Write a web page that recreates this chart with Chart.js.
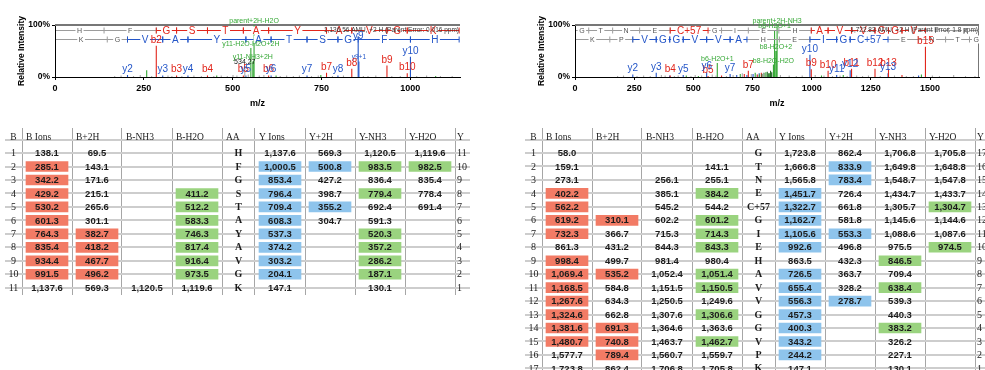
<!DOCTYPE html>
<html>
<head>
<meta charset="utf-8">
<title>MS/MS spectra and fragment ion tables</title>
<script src="https://cdn.jsdelivr.net/npm/chart.js@4.4.1/dist/chart.umd.min.js"></script>
<style>
  body { margin: 0; background: #fff; }
  #page { position: relative; width: 985px; height: 370px; overflow: hidden; }
  canvas { position: absolute; }
</style>
</head>
<body>
<div id="page">
  <canvas id="specLeft" width="470" height="112" style="left:0px;top:0px"></canvas>
  <canvas id="specRight" width="465" height="112" style="left:520px;top:0px"></canvas>
  <canvas id="tableLeft" width="470" height="250" style="left:0px;top:120px"></canvas>
  <canvas id="tableRight" width="465" height="250" style="left:520px;top:120px"></canvas>
</div>
<script>
// ---------- left peptide HFGSTAYAVGK : fragment table ----------
const leftAA    = ['H', 'F', 'G', 'S', 'T', 'A', 'Y', 'A', 'V', 'G', 'K'];
const leftBIons = [138.1, 285.1, 342.2, 429.2, 530.2, 601.3, 764.3, 835.4, 934.4, 991.5, 1137.6];
const leftB2H   = [69.5, 143.1, 171.6, 215.1, 265.6, 301.1, 382.7, 418.2, 467.7, 496.2, 569.3];
const leftBNH3  = [null, null, null, null, null, null, null, null, null, null, 1120.5];
const leftBH2O  = [null, null, null, 411.2, 512.2, 583.3, 746.3, 817.4, 916.4, 973.5, 1119.6];
const leftYIons = [1137.6, 1000.5, 853.4, 796.4, 709.4, 608.3, 537.3, 374.2, 303.2, 204.1, 147.1];
const leftY2H   = [569.3, 500.8, 427.2, 398.7, 355.2, 304.7, null, null, null, null, null];
const leftYNH3  = [1120.5, 983.5, 836.4, 779.4, 692.4, 591.3, 520.3, 357.2, 286.2, 187.1, 130.1];
const leftYH2O  = [1119.6, 982.5, 835.4, 778.4, 691.4, null, null, null, null, null, null];
// matched cells (table row numbers)
const leftHitBIons = [2, 3, 4, 5, 6, 7, 8, 9, 10];
const leftHitB2H   = [7, 8, 9, 10];
const leftHitBH2O  = [4, 5, 6, 7, 8, 9, 10];
const leftHitYIons = [2, 3, 4, 5, 6, 7, 8, 9, 10];
const leftHitY2H   = [2, 5];
const leftHitYNH3  = [2, 4, 7, 8, 9, 10];
const leftHitYH2O  = [2];

// ---------- right peptide GTNEC+57GIEHAVVGGVPK : fragment table ----------
const rightAA    = ['G', 'T', 'N', 'E', 'C+57', 'G', 'I', 'E', 'H', 'A', 'V', 'V', 'G', 'G', 'V', 'P', 'K'];
const rightBIons = [58.0, 159.1, 273.1, 402.2, 562.2, 619.2, 732.3, 861.3, 998.4, 1069.4, 1168.5, 1267.6, 1324.6, 1381.6, 1480.7, 1577.7, 1723.8];
const rightB2H   = [null, null, null, null, null, 310.1, 366.7, 431.2, 499.7, 535.2, 584.8, 634.3, 662.8, 691.3, 740.8, 789.4, 862.4];
const rightBNH3  = [null, null, 256.1, 385.1, 545.2, 602.2, 715.3, 844.3, 981.4, 1052.4, 1151.5, 1250.5, 1307.6, 1364.6, 1463.7, 1560.7, 1706.8];
const rightBH2O  = [null, 141.1, 255.1, 384.2, 544.2, 601.2, 714.3, 843.3, 980.4, 1051.4, 1150.5, 1249.6, 1306.6, 1363.6, 1462.7, 1559.7, 1705.8];
const rightYIons = [1723.8, 1666.8, 1565.8, 1451.7, 1322.7, 1162.7, 1105.6, 992.6, 863.5, 726.5, 655.4, 556.3, 457.3, 400.3, 343.2, 244.2, 147.1];
const rightY2H   = [862.4, 833.9, 783.4, 726.4, 661.8, 581.8, 553.3, 496.8, 432.3, 363.7, 328.2, 278.7, null, null, null, null, null];
const rightYNH3  = [1706.8, 1649.8, 1548.7, 1434.7, 1305.7, 1145.6, 1088.6, 975.5, 846.5, 709.4, 638.4, 539.3, 440.3, 383.2, 326.2, 227.1, 130.1];
const rightYH2O  = [1705.8, 1648.8, 1547.8, 1433.7, 1304.7, 1144.6, 1087.6, 974.5, null, null, null, null, null, null, null, null, null];
const rightHitBIons = [4, 5, 6, 7, 9, 10, 11, 12, 13, 14, 15];
const rightHitB2H   = [6, 10, 14, 15, 16];
const rightHitBH2O  = [4, 6, 7, 8, 10, 11, 13, 15];
const rightHitYIons = [4, 5, 6, 7, 8, 10, 11, 12, 13, 14, 15, 16];
const rightHitY2H   = [2, 3, 7, 12];
const rightHitYNH3  = [9, 11, 14];
const rightHitYH2O  = [5, 8];

const tableHeader = ['B', 'B Ions', 'B+2H', 'B-NH3', 'B-H2O', 'AA', 'Y Ions', 'Y+2H', 'Y-NH3', 'Y-H2O', 'Y'];

// ---------- spectra: m/z, relative intensity (%), label ----------
const mzTicks = [0, 250, 500, 750, 1000, 1250, 1500];

const specL_bMz  = [285.1, 342.2, 429.2, 530.2, 601.3, 764.3, 835.4, 934.4, 991.5];
const specL_bInt = [60, 3, 3, 3, 3, 8, 16, 22, 7];
const specL_bLab = ['b2', 'b3', 'b4', 'b5', 'b6', 'b7', 'b8', 'b9', 'b10'];
const specL_yMz  = [204.1, 303.2, 374.2, 537.3, 608.3, 709.4, 796.4, 853.4, 1000.5];
const specL_yInt = [4, 3, 3, 3, 3, 3, 3, 67, 39];
const specL_yLab = ['y2', 'y3', 'y4', 'y5', 'y6', 'y7', 'y8', 'y9', 'y10'];
const specL_iMz  = [855.4];
const specL_iInt = [30];
const specL_iLab = ['y9+1'];
const specL_gMz  = [258.1, 551.3, 556.8, 560.3, 455.2, 622.3, 748.3, 1071.5];
const specL_gInt = [13, 56, 30, 100, 3, 3, 4, 2];
const specL_gLab = ['', 'y11-H2O-H2O+2H', 'y11-NH3+2H', 'parent+2H-H2O', '', '', '', ''];
const specL_nMz  = [168, 186, 221, 240, 272, 318, 329, 357, 391, 412, 447, 468, 485, 501, 512, 534.27, 544, 575, 588, 634, 652, 671, 688, 722, 741, 781, 812, 868, 881, 903, 948, 972, 1018, 1046, 1085, 1118];
const specL_nInt = [2, 3, 2, 4, 2, 3, 2, 2, 3, 2, 2, 3, 2, 4, 3, 22, 5, 3, 4, 2, 3, 2, 3, 2, 3, 2, 3, 2, 2, 3, 2, 2, 2, 3, 2, 2];
const specL_nLab = ['', '', '', '', '', '', '', '', '', '', '', '', '', '', '', '534.27'];

const specR_bMz  = [402.2, 562.2, 619.2, 732.3, 998.4, 1069.4, 1168.5, 1267.6, 1324.6, 1381.6, 1480.7, 715.3, 771.4, 787.4];
const specR_bInt = [3, 2, 3, 12, 15, 12, 16, 16, 16, 4, 58, 6, 5, 8];
const specR_bLab = ['b4', 'b5', '', 'b7', 'b9', 'b10', 'b11', 'b12', 'b13', '', 'b15'];
const specR_yMz  = [244.2, 343.2, 400.3, 457.3, 556.3, 655.4, 726.5, 992.6, 1105.6, 1162.7, 1322.7, 1451.7, 683.3, 752.4, 778.4];
const specR_yInt = [5, 8, 3, 4, 9, 6, 4, 43, 4, 13, 7, 3, 4, 6, 7];
const specR_yLab = ['y2', 'y3', '', 'y5', 'y6', 'y7', '', 'y10', 'y11', 'y12', 'y13'];
const specR_gMz  = [601.2, 838.4, 843.3, 849.0, 853.9, 470.2, 521.3, 698.3, 761.4, 779.4, 806.4, 822.4, 1041.5, 1133.5, 1463.7];
const specR_gInt = [27, 24, 90, 50, 100, 3, 2, 6, 8, 5, 9, 7, 3, 4, 5];
const specR_gLab = ['b6-H2O+1', 'b8-H2O-H2O', 'b8-H2O+1', 'b8-H2O+2', 'parent+2H-NH3'];
const specR_dMz  = [790.4, 798.4, 812.4, 818.4, 826.4, 831.4];
const specR_dInt = [6, 8, 10, 7, 12, 9];
const specR_nMz  = [180, 205, 262, 290, 318, 365, 381, 420, 436, 490, 508, 535, 580, 596, 640, 668, 707, 745, 768, 795, 868, 905, 935, 960, 1015, 1052, 1088, 1120, 1150, 1190, 1215, 1240, 1290, 1350, 1400, 1430, 1510, 1540, 1600, 1650, 1690];
const specR_nInt = [2, 3, 2, 3, 2, 4, 3, 2, 3, 2, 4, 3, 5, 3, 2, 4, 7, 6, 5, 7, 4, 3, 2, 3, 4, 3, 2, 3, 2, 3, 2, 3, 2, 3, 2, 2, 3, 2, 4, 2, 2];

// sequence ladder coverage (1 = coloured residue)
const specL_bLadder = [0, 0, 1, 1, 1, 1, 1, 1, 1, 1, 1];
const specL_yLadder = [0, 0, 1, 1, 1, 1, 1, 1, 1, 1, 1];
const specR_bLadder = [0, 0, 0, 0, 1, 0, 0, 0, 0, 1, 1, 1, 1, 1, 1, 0, 0];
const specR_yLadder = [0, 0, 1, 1, 1, 1, 1, 1, 0, 0, 1, 1, 1, 0, 0, 0, 0];

const specL_parent = '1,136.56 AMU, +2 H (Parent Error: 0.016 ppm)';
const specR_parent = '1,722.83 AMU, +2 H (Parent Error: 1.8 ppm)';

// ---------- styling ----------
const RED = '#e2261c', BLUE = '#2456c8', GREEN = '#35a835', DKGREEN = '#1f6a22', GREY = '#ababab';
const HL = { red: '#f27b65', blue: '#8ec4ec', green: '#9ad37f' };
const SANS = "'Liberation Sans', Arial, sans-serif";
const SERIF = "'Liberation Serif', 'Times New Roman', serif";
const colEdges = [5, 22, 72, 122, 172, 222, 255, 305, 355, 405, 455, 490];
const HEADER_TOP = -1.36, HEADER_MID = -0.68;
const LADDER_B = 89.5, LADDER_Y = 73;

Chart.defaults.font.family = SANS;

function sticks(mz, inten) {
  let pts = [];
  mz.forEach((m, i) => { pts.push({x: m, y: 0}, {x: m, y: inten[i]}, {x: m, y: null}); });
  return pts;
}

function framePlugin(rightBorder) {
  return {
    id: 'frame',
    beforeDatasetsDraw(chart) {
      let {ctx, chartArea: a} = chart;
      ctx.save();
      ctx.strokeStyle = '#777';
      ctx.lineWidth = 2;
      ctx.beginPath(); ctx.moveTo(a.left, a.top); ctx.lineTo(a.right, a.top); ctx.stroke();
      if (rightBorder) {
        ctx.lineWidth = 1;
        ctx.beginPath(); ctx.moveTo(a.right - 0.5, a.top); ctx.lineTo(a.right - 0.5, a.bottom); ctx.stroke();
      }
      ctx.restore();
    }
  };
}

function ladderPlugin(rows, parentText) {
  return {
    id: 'ladder',
    afterDatasetsDraw(chart) {
      let {ctx, chartArea: a, scales: {x, y}} = chart;
      ctx.save();
      ctx.beginPath(); ctx.rect(a.left + 1, a.top - 2, a.width - 1, a.height); ctx.clip();
      rows.forEach(row => {
        let py = Math.round(y.getPixelForValue(row.level)) + 0.5;
        // grey residues first, coloured on top
        [0, 1].forEach(pass => {
          row.aa.forEach((aa, i) => {
            if (row.cover[i] !== pass) return;
            let x0 = x.getPixelForValue(row.edges[i]), x1 = x.getPixelForValue(row.edges[i + 1]);
            let col = pass ? row.color : '#9c9c9c';
            ctx.strokeStyle = col;
            ctx.lineWidth = 1;
            ctx.beginPath(); ctx.moveTo(x0, py); ctx.lineTo(x1, py); ctx.stroke();
            ctx.beginPath();
            ctx.moveTo(x1, py - 3); ctx.lineTo(x1, py + 3);
            if (pass) { ctx.moveTo(x0, py - 3); ctx.lineTo(x0, py + 3); }
            ctx.stroke();
            ctx.font = pass ? '10px ' + SANS : '7px ' + SANS;
            let w = ctx.measureText(aa).width, cx = (x0 + x1) / 2;
            ctx.fillStyle = '#fff';
            ctx.fillRect(cx - w / 2 - 1.5, py - 4, w + 3, 8);
            ctx.fillStyle = pass ? row.color : '#555';
            ctx.textAlign = 'center';
            ctx.textBaseline = 'middle';
            ctx.fillText(aa, cx, py + 0.5);
          });
        });
      });
      ctx.restore();
      ctx.save();
      ctx.font = '6.5px ' + SANS;
      ctx.fillStyle = '#3a3a3a';
      ctx.textAlign = 'right';
      ctx.textBaseline = 'middle';
      ctx.fillText(parentText, a.right - 1, Math.round(y.getPixelForValue(LADDER_B)));
      ctx.restore();
    }
  };
}

function peakLabelPlugin(groups) {
  return {
    id: 'peakLabels',
    afterDraw(chart) {
      let {ctx, scales: {x, y}} = chart;
      ctx.save();
      ctx.textAlign = 'center';
      ctx.textBaseline = 'alphabetic';
      groups.forEach(g => {
        if (!g.lab) return;
        ctx.font = g.font;
        ctx.fillStyle = g.labColor || g.color;
        g.lab.forEach((t, i) => {
          if (!t) return;
          ctx.fillText(t, x.getPixelForValue(g.mz[i]), y.getPixelForValue(g.int[i]) - g.gap);
        });
      });
      ctx.restore();
    }
  };
}

function drawSpectrum(id, xMax, axisWidth, padRight, groups, ladders, parentText, rightBorder) {
  return new Chart(document.getElementById(id), {
    type: 'scatter',
    data: {
      datasets: groups.map(g => ({
        data: sticks(g.mz, g.int),
        showLine: true,
        spanGaps: false,
        borderColor: g.color,
        borderWidth: 1.1,
        pointRadius: 0
      }))
    },
    options: {
      responsive: false,
      animation: false,
      devicePixelRatio: 1,
      layout: { padding: { top: 25, right: padRight, left: 0, bottom: 0 } },
      plugins: { legend: { display: false }, tooltip: { enabled: false } },
      scales: {
        x: {
          type: 'linear', min: 0, max: xMax,
          afterBuildTicks: s => { s.ticks = mzTicks.filter(v => v <= xMax).map(v => ({value: v})); },
          ticks: { autoSkip: false, maxRotation: 0, padding: 3,
                   color: '#000', font: { size: 9, weight: 'bold' }, callback: v => String(v) },
          grid: { drawOnChartArea: false, tickLength: 3, color: '#000' },
          border: { color: '#000' },
          title: { display: true, text: 'm/z', color: '#000', font: { size: 9, weight: 'bold' }, padding: { top: 0, bottom: 3.5 } },
          afterFit: s => { s.height = 35; }
        },
        y: {
          type: 'linear', min: 0, max: 100,
          afterBuildTicks: s => { s.ticks = [{value: 0}, {value: 100}]; },
          ticks: { padding: 2, color: '#000', font: { size: 8.5, weight: 'bold' }, callback: v => v + '%' },
          grid: { drawOnChartArea: false, tickLength: 3, color: '#000' },
          border: { color: '#000' },
          title: { display: true, text: 'Relative Intensity', color: '#000', font: { size: 8.5, weight: 'bold' }, padding: { top: 17, bottom: 0 } },
          afterFit: s => { s.width = axisWidth; }
        }
      }
    },
    plugins: [framePlugin(rightBorder), ladderPlugin(ladders, parentText), peakLabelPlugin(groups)]
  });
}

function ladderRows(aa, bIons, yIons, bCover, yCover) {
  let yAsc = yIons.slice().reverse();
  return [
    { level: LADDER_B, aa: aa, edges: [0].concat(bIons), cover: bCover, color: RED },
    { level: LADDER_Y, aa: aa.slice().reverse(), edges: [0].concat(yAsc), cover: yCover, color: BLUE }
  ];
}

const ionFont = '10px ' + SANS, smallFont = '7px ' + SANS, tinyFont = '6.5px ' + SANS;

drawSpectrum('specLeft', 1140, 55, 10, [
  { mz: specL_nMz, int: specL_nInt, color: GREY, lab: specL_nLab, labColor: '#111', font: smallFont, gap: 2 },
  { mz: specL_gMz, int: specL_gInt, color: GREEN, lab: specL_gLab, font: smallFont, gap: 2 },
  { mz: specL_iMz, int: specL_iInt, color: BLUE, lab: specL_iLab, font: tinyFont, gap: 2 },
  { mz: specL_bMz, int: specL_bInt, color: RED, lab: specL_bLab, font: ionFont, gap: 3 },
  { mz: specL_yMz, int: specL_yInt, color: BLUE, lab: specL_yLab, font: ionFont, gap: 3 }
], ladderRows(leftAA, leftBIons, leftYIons, specL_bLadder, specL_yLadder), specL_parent, false);

drawSpectrum('specRight', 1707, 55, 6, [
  { mz: specR_nMz, int: specR_nInt, color: GREY },
  { mz: specR_dMz, int: specR_dInt, color: DKGREEN },
  { mz: specR_gMz, int: specR_gInt, color: GREEN, lab: specR_gLab, font: smallFont, gap: 2 },
  { mz: specR_bMz, int: specR_bInt, color: RED, lab: specR_bLab, font: ionFont, gap: 3 },
  { mz: specR_yMz, int: specR_yInt, color: BLUE, lab: specR_yLab, font: ionFont, gap: 3 }
], ladderRows(rightAA, rightBIons, rightYIons, specR_bLadder, specR_yLadder), specR_parent, true);

// ---------- tables ----------
function fmt(v) {
  return v == null ? '' : v.toLocaleString('en-US', { minimumFractionDigits: 1, maximumFractionDigits: 1 });
}

function tableTextPlugin(cols, nRows) {
  return {
    id: 'tableText',
    afterDatasetsDraw(chart) {
      let {ctx, scales: {x, y}} = chart;
      ctx.save();
      ctx.fillStyle = '#1c1c1c';
      ctx.textBaseline = 'middle';
      tableHeader.forEach((h, c) => {
        let l = x.getPixelForValue(colEdges[c]), r = x.getPixelForValue(colEdges[c + 1]);
        ctx.font = '9.5px ' + SERIF;
        ctx.textAlign = c === 0 ? 'center' : 'left';
        ctx.fillText(h, c === 0 ? (l + r) / 2 : l + (c === 10 ? 2 : 4), y.getPixelForValue(HEADER_MID));
      });
      cols.forEach((col, c) => {
        let l = x.getPixelForValue(colEdges[c]), r = x.getPixelForValue(colEdges[c + 1]);
        for (let i = 0; i < nRows; i++) {
          let py = y.getPixelForValue(i + 0.5) + 0.5;
          let v = col[i];
          if (c === 0) {
            ctx.font = '10px ' + SERIF; ctx.textAlign = 'center';
            ctx.fillText(String(v), (l + r) / 2, py);
          } else if (c === 10) {
            ctx.font = '10px ' + SERIF; ctx.textAlign = 'left';
            ctx.fillText(String(v), l + 2, py);
          } else if (c === 5) {
            ctx.font = 'bold 10px ' + SERIF; ctx.textAlign = 'center';
            ctx.fillText(v, (l + r) / 2, py);
          } else {
            ctx.font = 'bold 9.5px ' + SANS; ctx.textAlign = 'center';
            ctx.fillText(fmt(v), (l + r) / 2, py);
          }
        }
      });
      ctx.restore();
    }
  };
}

function drawTable(id, width, cols, hits, yMax, padBottom) {
  let nRows = cols[0].length;
  let sets = { red: [], blue: [], green: [] };
  hits.forEach(h => {
    h.rows.forEach(r => {
      sets[h.color].push({ y: r - 0.5, x: [colEdges[h.col] + 4, colEdges[h.col + 1] - 4] });
    });
  });
  let rowLines = [];
  for (let i = 0; i <= Math.floor(yMax); i++) rowLines.push(i);
  return new Chart(document.getElementById(id), {
    type: 'bar',
    data: {
      datasets: Object.keys(sets).map(k => ({
        data: sets[k], backgroundColor: HL[k], borderWidth: 0, barThickness: 10, grouped: false
      }))
    },
    options: {
      responsive: false,
      animation: false,
      devicePixelRatio: 1,
      indexAxis: 'y',
      layout: { padding: { left: 5, top: 8, right: 0, bottom: padBottom } },
      plugins: { legend: { display: false }, tooltip: { enabled: false } },
      scales: {
        x: {
          type: 'linear', min: 5, max: width, offset: false,
          afterBuildTicks: s => { s.ticks = colEdges.slice(1).filter(v => v < width).map(v => ({value: v})); },
          ticks: { display: false },
          grid: { color: '#a6a6a6', lineWidth: 1, drawTicks: false },
          border: { display: false },
          afterFit: s => { s.height = 0; }
        },
        y: {
          type: 'linear', reverse: true, min: HEADER_TOP, max: yMax, offset: false,
          afterBuildTicks: s => { s.ticks = rowLines.map(v => ({value: v})); },
          ticks: { display: false },
          grid: { color: '#cdcdcd', lineWidth: 2, drawTicks: false },
          border: { display: false },
          afterFit: s => { s.width = 0; }
        }
      }
    },
    plugins: [tableTextPlugin(cols, nRows)]
  });
}

function rowNums(n, desc) {
  let out = [];
  for (let i = 1; i <= n; i++) out.push(desc ? n - i + 1 : i);
  return out;
}

drawTable('tableLeft', 470,
  [rowNums(11), leftBIons, leftB2H, leftBNH3, leftBH2O, leftAA, leftYIons, leftY2H, leftYNH3, leftYH2O, rowNums(11, true)],
  [
    { col: 1, rows: leftHitBIons, color: 'red' },
    { col: 2, rows: leftHitB2H, color: 'red' },
    { col: 4, rows: leftHitBH2O, color: 'green' },
    { col: 6, rows: leftHitYIons, color: 'blue' },
    { col: 7, rows: leftHitY2H, color: 'blue' },
    { col: 8, rows: leftHitYNH3, color: 'green' },
    { col: 9, rows: leftHitYH2O, color: 'green' }
  ], 11, 75.5);

drawTable('tableRight', 465,
  [rowNums(17), rightBIons, rightB2H, rightBNH3, rightBH2O, rightAA, rightYIons, rightY2H, rightYNH3, rightYH2O, rowNums(17, true)],
  [
    { col: 1, rows: rightHitBIons, color: 'red' },
    { col: 2, rows: rightHitB2H, color: 'red' },
    { col: 4, rows: rightHitBH2O, color: 'green' },
    { col: 6, rows: rightHitYIons, color: 'blue' },
    { col: 7, rows: rightHitY2H, color: 'blue' },
    { col: 8, rows: rightHitYNH3, color: 'green' },
    { col: 9, rows: rightHitYH2O, color: 'green' }
  ], 16.62, 0);
</script>
</body>
</html>
